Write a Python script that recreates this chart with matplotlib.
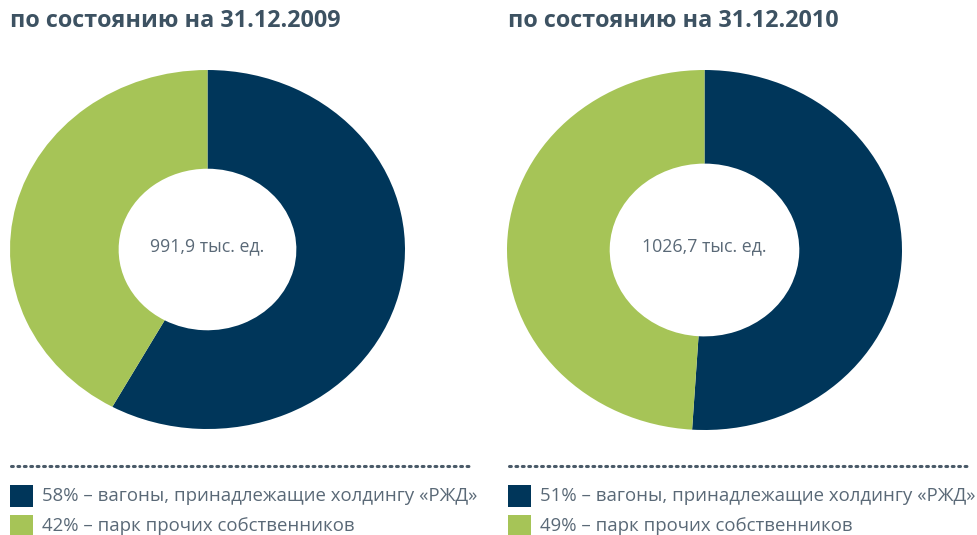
import matplotlib.pyplot as plt
from matplotlib.lines import Line2D
from matplotlib.patches import Rectangle

# data
titles = ["по состоянию на 31.12.2009", "по состоянию на 31.12.2010"]
totals = ["991,9 тыс. ед.", "1026,7 тыс. ед."]
rzd_share = [58, 51]
other_share = [42, 49]
categories = ["вагоны, принадлежащие холдингу «РЖД»", "парк прочих собственников"]

NAVY = "#00365a"
GREEN = "#a6c457"
TITLE_C = "#3d5262"
TEXT_C = "#5a6977"

W, H = 977, 535
plt.rcParams['font.family'] = ['Open Sans', 'DejaVu Sans']

fig = plt.figure(figsize=(W / 100, H / 100), dpi=100)


def fx(px):
    return px / W


def fy(py):
    return 1 - py / H


# pixel boxes: left, top, right, bottom of each donut
boxes = [(10, 70, 405, 429), (507, 70, 902, 430)]
ring_widths = [0.55, 0.52]
left_edges = [10, 508]

for i in range(2):
    l, t, r, b = boxes[i]
    ax = fig.add_axes([fx(l), fy(b), fx(r - l), (b - t) / H])
    ax.pie([rzd_share[i], other_share[i]], colors=[NAVY, GREEN],
           startangle=90, counterclock=False, radius=1,
           wedgeprops=dict(width=ring_widths[i], linewidth=0))
    ax.set_aspect('auto')
    ax.set_xlim(-1, 1)
    ax.set_ylim(-1, 1)
    ax.axis('off')
    ax.text(0, 0.02, totals[i], ha='center', va='center',
            fontsize=12.8, color=TEXT_C)

    x0 = left_edges[i]
    fig.text(fx(x0), fy(21), titles[i], fontsize=16.8, fontweight='bold',
             color=TITLE_C, ha='left', va='center')

    # dotted separator
    fig.add_artist(Line2D([fx(x0 + 1), fx(x0 + 460)], [fy(466), fy(466)],
                          color="#4a5a68", linewidth=2.2, linestyle=(0, (0.6, 1.5)),
                          dash_capstyle='round'))

    # legend
    shares = [rzd_share[i], other_share[i]]
    for j, (col, cat) in enumerate(zip([NAVY, GREEN], categories)):
        yc = 496 + j * 30
        fig.add_artist(Rectangle((fx(x0), fy(yc + 11)), fx(23), 22 / H,
                                 facecolor=col, edgecolor='none',
                                 transform=fig.transFigure))
        fig.text(fx(x0 + 32), fy(yc), f"{shares[j]}% – {cat}",
                 fontsize=13.4, color=TEXT_C, ha='left', va='center')

fig.savefig("out.png", dpi=100)
